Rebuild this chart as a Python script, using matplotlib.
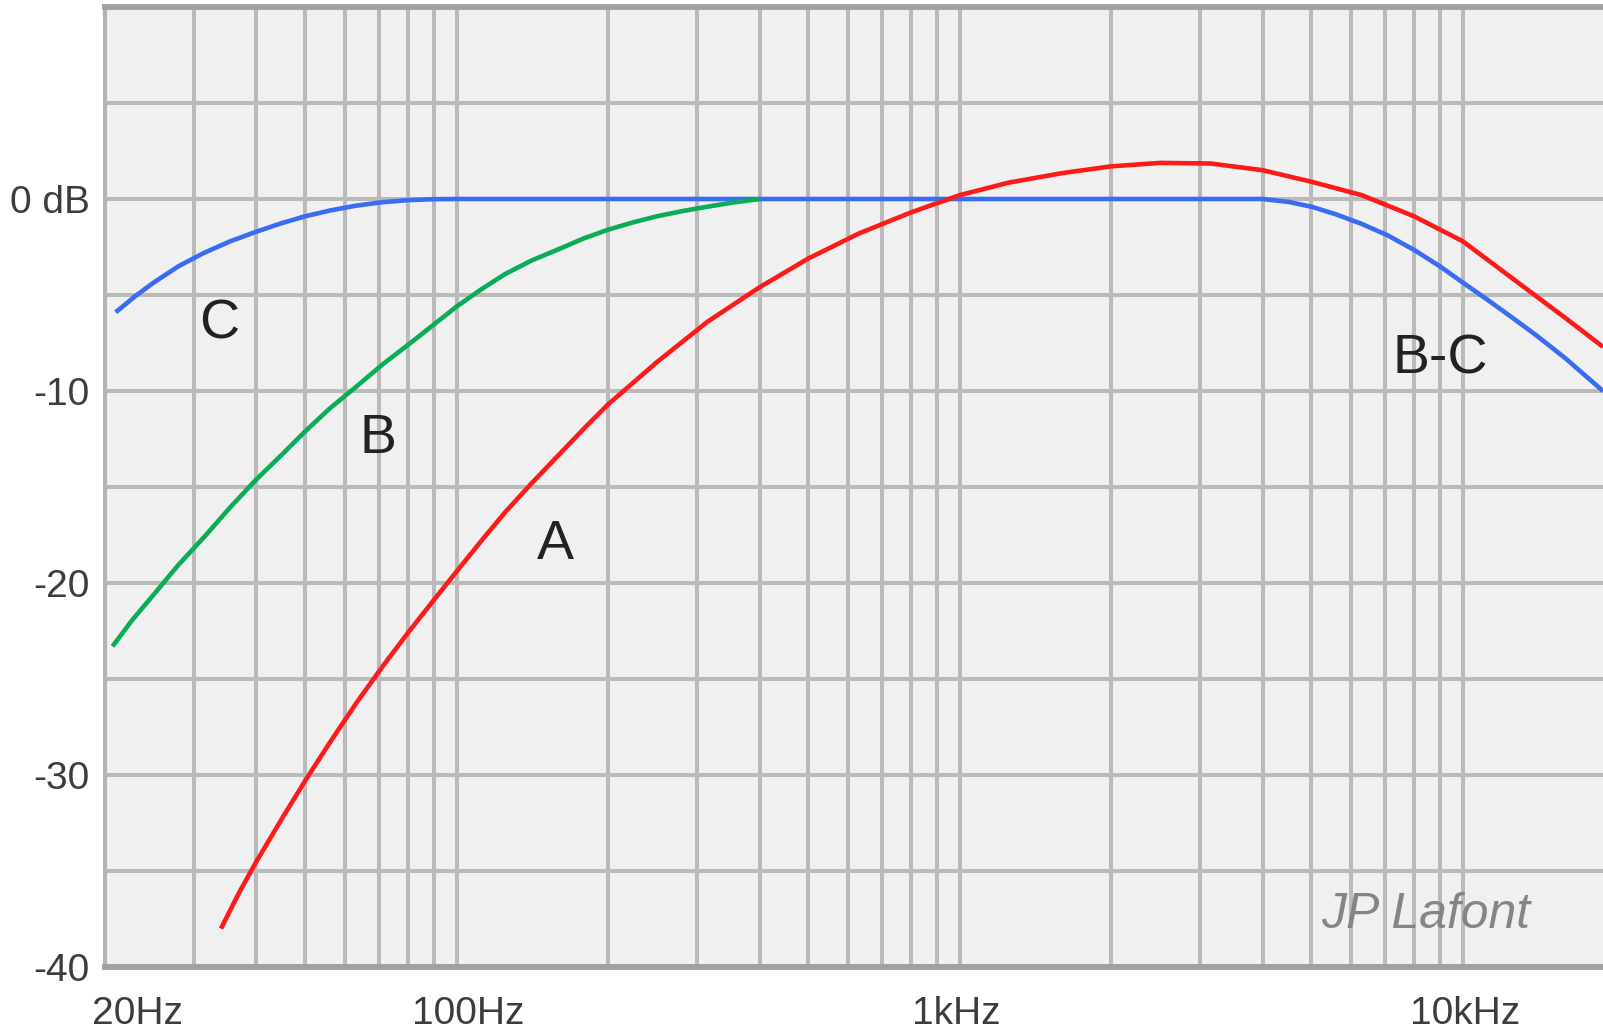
import matplotlib.pyplot as plt
from matplotlib.transforms import offset_copy

# weighting curves (Hz, dB)
freq_a = [34, 37, 40, 45, 50, 56, 63, 71, 80, 90, 100, 112, 125, 141, 160, 180, 200,
          250, 315, 400, 500, 630, 800, 1000, 1250, 1600, 2000, 2500, 3150, 4000,
          5000, 6300, 8000, 10000, 12500, 16000, 19000]
a_db = [-38.0, -36.1, -34.5, -32.25, -30.3, -28.3, -26.3, -24.4, -22.6, -20.9, -19.4,
        -17.8, -16.3, -14.8, -13.3, -11.9, -10.7, -8.5, -6.4, -4.6, -3.1, -1.8, -0.7,
        0.2, 0.85, 1.35, 1.7, 1.88, 1.85, 1.5, 0.9, 0.2, -0.9, -2.2, -4.1, -6.2, -7.7]

freq_b = [20.7, 22.7, 25, 28, 31.5, 35.5, 40, 45, 50, 56, 63, 71, 80, 90, 100, 112,
          125, 141, 160, 179, 200, 224, 250, 281, 315, 355, 400]
b_db = [-23.3, -21.9, -20.6, -19.05, -17.6, -16.05, -14.6, -13.3, -12.1, -10.9, -9.8,
        -8.65, -7.6, -6.55, -5.6, -4.7, -3.9, -3.2, -2.6, -2.05, -1.6, -1.22, -0.9,
        -0.63, -0.4, -0.18, 0.0]

freq_c = [21, 23, 25, 28, 31.5, 35.5, 40, 45, 50, 56, 63, 71, 80, 90, 100, 4000,
          4500, 5000, 5600, 6300, 7100, 8000, 9000, 10000, 11200, 12500, 14000,
          16000, 19000]
c_db = [-5.9, -5.05, -4.35, -3.5, -2.8, -2.2, -1.7, -1.25, -0.9, -0.6, -0.35, -0.17,
        -0.06, -0.01, 0.0, 0.0, -0.15, -0.4, -0.8, -1.3, -1.9, -2.65, -3.5, -4.35,
        -5.25, -6.15, -7.1, -8.3, -10.0]

x_ticks = [20, 100, 1000, 10000]
x_tick_labels = ["20Hz", "100Hz", "1kHz", "10kHz"]
y_ticks = [0, -10, -20, -30, -40]
y_tick_labels = ["0 dB", "-10", "-20", "-30", "-40"]

grid_freqs = ([f * 10 for f in range(3, 10)] + [f * 100 for f in range(1, 10)]
              + [f * 1000 for f in range(1, 11)])
grid_db = [5, 0, -5, -10, -15, -20, -25, -30, -35]

plt.rcParams['font.family'] = ['Liberation Sans', 'DejaVu Sans']

fig = plt.figure(figsize=(16.03, 10.33), dpi=100)
ax = fig.add_axes([105 / 1603, 1 - 967 / 1033, 1 - 105 / 1603, 960 / 1033])
ax.set_facecolor("#f0f0f0")
ax.set_xscale("log")
ax.set_xlim(20, 19000)
ax.set_ylim(-40, 10)

# grid
for f in grid_freqs:
    ax.axvline(f, color="#bababa", lw=2.9, zorder=1)
for d in grid_db:
    ax.axhline(d, color="#bababa", lw=2.9, zorder=1)

for s in ["top", "bottom"]:
    ax.spines[s].set_color("#a0a0a0")
    ax.spines[s].set_linewidth(4.2)
ax.spines["left"].set_color("#b4b4b4")
ax.spines["left"].set_linewidth(3)
ax.spines["right"].set_visible(False)

# curves
ax.plot(freq_c, c_db, color="#3a6cf3", lw=3.3, zorder=3, solid_capstyle="butt")
ax.plot(freq_b, b_db, color="#0aad55", lw=3.3, zorder=4, solid_capstyle="butt")
ax.plot(freq_a, a_db, color="#ff1a1a", lw=3.3, zorder=5, solid_capstyle="butt")

# curve names
lab_style = dict(fontsize=40, color="#222222", ha="center", va="center", zorder=6)
ax.text(33.8, -6.55, "C", **lab_style)
ax.text(69.9, -12.5, "B", **lab_style)
ax.text(157, -18.0, "A", **lab_style)
ax.text(9025, -8.35, "B-C", **lab_style)
ax.text(8450, -37.3, "JP Lafont", fontsize=36, color="#858585", style="italic",
        ha="center", va="center", zorder=6)

# axis labels
ax.set_xticks([])
ax.set_xticks([], minor=True)
ax.set_yticks(y_ticks)
ax.set_yticklabels(y_tick_labels)
ax.tick_params(axis="y", length=0, pad=11, labelsize=28, labelcolor="#3c3c3c")

x_shift = [32, 12, -3, 2]
for f, lab, dx in zip(x_ticks, x_tick_labels, x_shift):
    tr = offset_copy(ax.get_xaxis_transform(), fig=fig, x=dx, y=-47, units="dots")
    ax.text(f, 0, lab, transform=tr, fontsize=28, color="#3c3c3c",
            ha="center", va="center", clip_on=False)

fig.savefig("out.png", dpi=100, facecolor="white")
